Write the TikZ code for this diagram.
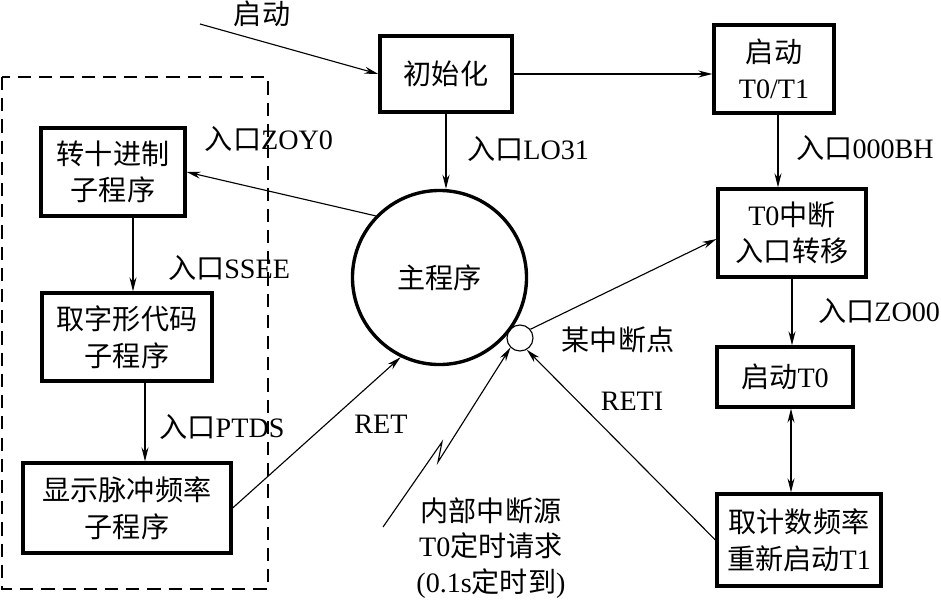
\documentclass[tikz,border=0pt]{standalone}
\usepackage{fontspec}
\setmainfont{Liberation Serif}
\newfontfamily\cjk{Noto Sans CJK SC}
\usetikzlibrary{arrows.meta}
\tikzset{
  blk/.style={draw, line width=2.3pt, align=center, inner sep=0pt},
  lbl/.style={inner sep=0pt, align=center},
  flow/.style={-{Stealth[length=10pt,width=5pt]}, line width=0.8pt},
  flowboth/.style={{Stealth[length=10pt,width=5pt]}-{Stealth[length=10pt,width=5pt]}, line width=0.8pt}
}
\begin{document}
\begin{tikzpicture}[x=0.025cm, y=-0.025cm, font=\fontsize{20}{26}\selectfont]
  \useasboundingbox (0,0) rectangle (941,600);
  \draw[dashed, line width=0.9pt, dash pattern=on 0.33cm off 0.2cm] (2,77) rectangle (268,589);

  \node[blk, minimum width=3.3cm, minimum height=1.9cm] (init) at (446,74) {\cjk 初始化};
  \node[blk, minimum width=3.0cm, minimum height=2.2cm] (startT) at (774,69) {{\cjk 启动}\\T0/T1};
  \node[blk, minimum width=3.7cm, minimum height=2.2cm] (t0int) at (792,233) {T0{\cjk 中断}\\{\cjk 入口转移}};
  \node[blk, minimum width=3.4cm, minimum height=1.5cm] (startT0) at (785,377) {{\cjk 启动}T0};
  \node[blk, minimum width=4.1cm, minimum height=2.3cm] (getfreq) at (799,540) {{\cjk 取计数频率}\\{\cjk 重新启动}T1};
  \node[blk, minimum width=3.6cm, minimum height=2.2cm] (todec) at (113,172) {{\cjk 转十进制}\\{\cjk 子程序}};
  \node[blk, minimum width=4.25cm, minimum height=2.2cm] (getcode) at (127,337) {{\cjk 取字形代码}\\{\cjk 子程序}};
  \node[blk, minimum width=5.2cm, minimum height=2.25cm] (disp) at (127,508) {{\cjk 显示脉冲频率}\\{\cjk 子程序}};
  \node[draw, circle, line width=2.4pt, minimum size=4.35cm] (main) at (439.5,277.5) {\cjk 主程序};
  \node[draw, circle, line width=0.8pt, minimum size=0.65cm, inner sep=0pt] (pt) at (520,338) {};

  \node[lbl] (lblstart) at (262,14) {\cjk 启动};
  \node[lbl] (lblzoy) at (269,139) {{\cjk 入口}ZOY0};
  \node[lbl] (lblssee) at (229,268) {{\cjk 入口}SSEE};
  \node[lbl] (lblptds) at (222,427) {{\cjk 入口}PTDS};
  \node[lbl] (lbllo) at (528,149) {{\cjk 入口}LO31};
  \node[lbl] (lbl000b) at (865,148) {{\cjk 入口}000BH};
  \node[lbl] (lblzo) at (879,311) {{\cjk 入口}ZO00};
  \node[lbl] (lblpt) at (618,340) {\cjk 某中断点};
  \node[lbl] (lblreti) at (632,401) {RETI};
  \node[lbl] (lblret) at (381,424) {RET};
  \node[lbl, font=\fontsize{20}{25}\selectfont] (lblsrc) at (491,548) {{\cjk 内部中断源}\\T0{\cjk 定时请求}\\(0.1s{\cjk 定时到})};

  \coordinate (src) at (200,24);
  \coordinate (bolt) at (383,527);
  \draw[flow] (src) -- (init.west);
  \draw[flow] (init.east) -- (init.east -| startT.west);
  \draw[flow] (init.south) -- (init.south |- main.north);
  \draw[flow] ([xshift=0.1cm]startT.south) -- ([xshift=0.1cm]startT.south |- t0int.north);
  \draw[flow] (t0int.south) -- (t0int.south |- startT0.north);
  \draw[flowboth] ([xshift=0.15cm]startT0.south) -- ([xshift=0.15cm]startT0.south |- getfreq.north);
  \draw[flow] (getfreq.west) -- (pt.-60);
  \draw[flow] (pt.40) -- ([yshift=-0.15cm]t0int.west);
  \draw[flow] (bolt) -- (442,442) -- (438,462) -- (pt.225);
  \draw[flow] (main.136) -- (todec.east);
  \draw[flow] ([xshift=0.5cm]todec.south) -- ([xshift=0.5cm]todec.south |- getcode.north);
  \draw[flow] ([xshift=0.45cm]getcode.south) -- ([xshift=0.45cm]getcode.south |- disp.north);
  \draw[flow] (disp.east) -- (main.244);
\end{tikzpicture}
\end{document}
